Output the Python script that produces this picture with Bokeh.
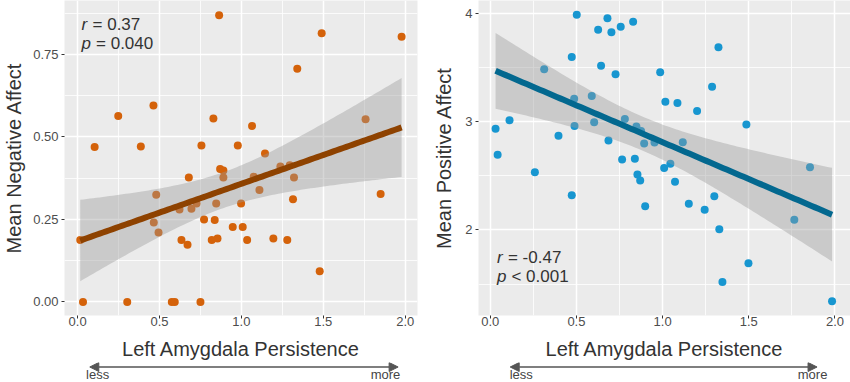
import numpy as np
from bokeh.plotting import figure
from bokeh.models import Range1d, FixedTicker, NumeralTickFormatter, Arrow, NormalHead
from bokeh.layouts import column, row
from bokeh.core.properties import value
from bokeh.embed import file_html
from bokeh.resources import INLINE

# ---------------- data ----------------
neg_x = [0.864, 1.49, 1.978, 1.341, 0.463, 0.248, 0.829, 1.065, 1.758, 0.104,
         0.386, 0.756, 0.978, 1.144, 0.870, 0.890, 0.890, 0.679, 1.075, 1.238,
         1.295, 1.321, 1.110, 1.315, 1.850, 0.480, 0.622, 0.695, 0.726, 0.846,
         0.998, 0.772, 0.837, 0.465, 0.494, 0.947, 1.008, 0.634, 0.671, 0.819,
         0.854, 1.035, 1.195, 1.280, 0.016, 1.478, 0.033, 0.303, 0.575, 0.593,
         0.750]
neg_y = [0.868, 0.814, 0.803, 0.706, 0.595, 0.563, 0.556, 0.533, 0.553, 0.469,
         0.471, 0.474, 0.474, 0.450, 0.403, 0.398, 0.377, 0.377, 0.379, 0.410,
         0.414, 0.377, 0.339, 0.311, 0.327, 0.325, 0.280, 0.282, 0.298, 0.298,
         0.298, 0.250, 0.248, 0.241, 0.210, 0.227, 0.227, 0.188, 0.173, 0.188,
         0.192, 0.188, 0.192, 0.188, 0.188, 0.093, 0.0, 0.0, 0.0, 0.0,
         0.0]

pos_x = [0.502, 0.680, 0.829, 0.757, 0.626, 0.703, 1.324, 0.473, 0.643, 0.313,
         0.986, 0.727, 1.287, 0.589, 0.487, 1.016, 1.086, 1.200, 0.781, 0.112,
         0.603, 0.031, 1.486, 0.489, 0.848, 0.875, 0.396, 0.686, 0.893, 0.953,
         1.117, 0.043, 0.765, 0.839, 1.045, 1.009, 1.855, 0.259, 0.854, 0.870,
         1.072, 0.473, 1.300, 1.152, 0.899, 1.244, 1.764, 1.329, 1.498, 1.347,
         1.983]
pos_y = [3.985, 3.954, 3.920, 3.875, 3.847, 3.823, 3.685, 3.596, 3.514, 3.483,
         3.456, 3.437, 3.321, 3.235, 3.211, 3.183, 3.171, 3.098, 3.024, 3.012,
         2.994, 2.933, 2.972, 2.960, 2.954, 2.914, 2.869, 2.826, 2.798, 2.807,
         2.810, 2.694, 2.651, 2.657, 2.612, 2.572, 2.578, 2.532, 2.511, 2.456,
         2.446, 2.321, 2.312, 2.242, 2.220, 2.187, 2.095, 2.006, 1.694, 1.520,
         1.343]

x_ticks = [0.0, 0.5, 1.0, 1.5, 2.0]
x_minor = [0.25, 0.75, 1.25, 1.75]
neg_ticks = [0.0, 0.25, 0.50, 0.75]
neg_minor = [0.125, 0.375, 0.625, 0.875]
pos_ticks = [2, 3, 4]
pos_minor = [1.5, 2.5, 3.5]

neg_stats = [("r", "= 0.37"), ("p", "= 0.040")]
pos_stats = [("r", "= -0.47"), ("p", "< 0.001")]

x_title = "Left Amygdala Persistence"
neg_title = "Mean Negative Affect"
pos_title = "Mean Positive Affect"
less_more = ["less", "more"]

FONT = "Liberation Sans"
FRAME_H = 316
BOTTOM = 46
PANEL_H = FRAME_H + BOTTOM
TOTAL_W = 850
TOTAL_H = 382


def fit_band(x, y, npts=100):
    x = np.asarray(x, float)
    y = np.asarray(y, float)
    n = len(x)
    b, a = np.polyfit(x, y, 1)
    xs = np.linspace(x.min(), x.max(), npts)
    yhat = a + b * xs
    resid = y - (a + b * x)
    s = np.sqrt(np.sum(resid ** 2) / (n - 2))
    sxx = np.sum((x - x.mean()) ** 2)
    t = 2.0096
    se = s * np.sqrt(1.0 / n + (xs - x.mean()) ** 2 / sxx)
    return xs, yhat, yhat - t * se, yhat + t * se


def panel(xs, ys, pt_color, line_color, xr, yr, yticks, yminor, yfmt, ylabel,
          width, bl, br, ylab_standoff, stats, sx, sy):
    p = figure(width=width, height=PANEL_H, x_range=Range1d(*xr), y_range=Range1d(*yr),
               output_backend="svg", toolbar_location=None,
               min_border_left=bl, min_border_right=br, min_border_top=0,
               min_border_bottom=BOTTOM,
               background_fill_color="#EBEBEB", border_fill_color="white",
               outline_line_color=None)
    p.xaxis.ticker = FixedTicker(ticks=x_ticks, minor_ticks=x_minor)
    p.yaxis.ticker = FixedTicker(ticks=yticks, minor_ticks=yminor)
    p.xaxis.formatter = NumeralTickFormatter(format="0.0")
    p.yaxis.formatter = NumeralTickFormatter(format=yfmt)
    for ax in (p.xaxis, p.yaxis):
        ax.axis_line_color = None
        ax.major_tick_line_color = "#333333"
        ax.major_tick_out = 3
        ax.major_tick_in = 0
        ax.minor_tick_line_color = None
        ax.major_label_text_font = FONT
        ax.major_label_text_font_size = "13px"
        ax.major_label_text_color = "#4D4D4D"
        ax.axis_label_text_font = FONT
        ax.axis_label_text_font_size = "20px"
        ax.axis_label_text_font_style = "normal"
        ax.axis_label_text_color = "#333333"
    p.xaxis.major_label_standoff = -3
    p.yaxis.major_label_standoff = 2
    p.xaxis.axis_label = x_title
    p.xaxis.axis_label_standoff = 9
    p.yaxis.axis_label = ylabel
    p.yaxis.axis_label_standoff = ylab_standoff
    for g in (p.xgrid, p.ygrid):
        g.grid_line_color = "white"
        g.grid_line_width = 1.5
        g.minor_grid_line_color = "white"
        g.minor_grid_line_width = 0.8

    p.scatter(xs, ys, size=8, fill_color=pt_color, line_color=None)
    bx, yhat, lo, hi = fit_band(xs, ys)
    p.varea(x=bx, y1=lo, y2=hi, fill_color="#999999", fill_alpha=0.4)
    p.line(bx, yhat, line_color=line_color, line_width=6)

    for (sym, rest), yy in zip(stats, sy):
        p.text([sx], [yy], text=[sym], text_font=value(FONT), text_font_size="17px",
               text_font_style="italic", text_color="#333333",
               text_baseline="middle", text_align="left")
        p.text([sx], [yy], text=[rest], text_font=value(FONT), text_font_size="17px",
               text_color="#333333", text_baseline="middle", text_align="left",
               x_offset=11 if sym == "r" else 14.5)
    return p


NEG_XR = (-0.08, 2.075)
NEG_YR = (-0.041, 0.913)
POS_XR = (-0.068, 2.09)
POS_YR = (1.211, 4.117)

L_W, L_BL, L_BR = 425, 63, 8
R_W, R_BL, R_BR = 425, 53, 0

p1 = panel(neg_x, neg_y, "#D4620A", "#8E4200", NEG_XR, NEG_YR, neg_ticks, neg_minor,
           "0.00", neg_title, L_W, L_BL, L_BR, 5, neg_stats, 0.024, [0.840, 0.783])
p2 = panel(pos_x, pos_y, "#1796D0", "#03688F", POS_XR, POS_YR, pos_ticks, pos_minor,
           "0", pos_title, R_W, R_BL, R_BR, 7, pos_stats, 0.039, [1.75, 1.575])

# strip with the less/more arrows, positioned through the panels' x scales
STRIP_H = TOTAL_H - PANEL_H
strip = figure(width=TOTAL_W, height=STRIP_H, x_range=Range1d(0, TOTAL_W),
               y_range=Range1d(0, STRIP_H), output_backend="svg", toolbar_location=None,
               min_border=0, min_border_left=0, min_border_right=0,
               min_border_top=0, min_border_bottom=0,
               outline_line_color=None, background_fill_color="white")
strip.xaxis.visible = False
strip.yaxis.visible = False
strip.grid.visible = False


def to_px(v, frame_left, frame_w, xr):
    return frame_left + (v - xr[0]) * frame_w / (xr[1] - xr[0])


panels_geom = [
    (L_BL, L_W - L_BL - L_BR, NEG_XR, (0.08, 1.957), (0.128, 1.88)),
    (L_W + R_BL, R_W - R_BL - R_BR, POS_XR, (0.116, 1.896), (0.18, 1.87)),
]
for fl, fw, xr, (a0, a1), (t0, t1) in panels_geom:
    xs0 = to_px(a0, fl, fw, xr)
    xs1 = to_px(a1, fl, fw, xr)
    strip.add_layout(Arrow(
        x_start=xs0, y_start=STRIP_H - 4.5, x_end=xs1, y_end=STRIP_H - 4.5,
        line_color="#555555", line_width=1.5,
        start=NormalHead(size=9, fill_color="#555555", line_color="#555555"),
        end=NormalHead(size=9, fill_color="#555555", line_color="#555555")))
    strip.text([to_px(t0, fl, fw, xr), to_px(t1, fl, fw, xr)], [0.5, 0.5], text=less_more,
               text_font=value(FONT), text_font_size="13px", text_color="#444444",
               text_baseline="bottom", text_align="center")

layout = column(row(p1, p2), strip)

open("out.html", "w").write(file_html(layout, INLINE))
